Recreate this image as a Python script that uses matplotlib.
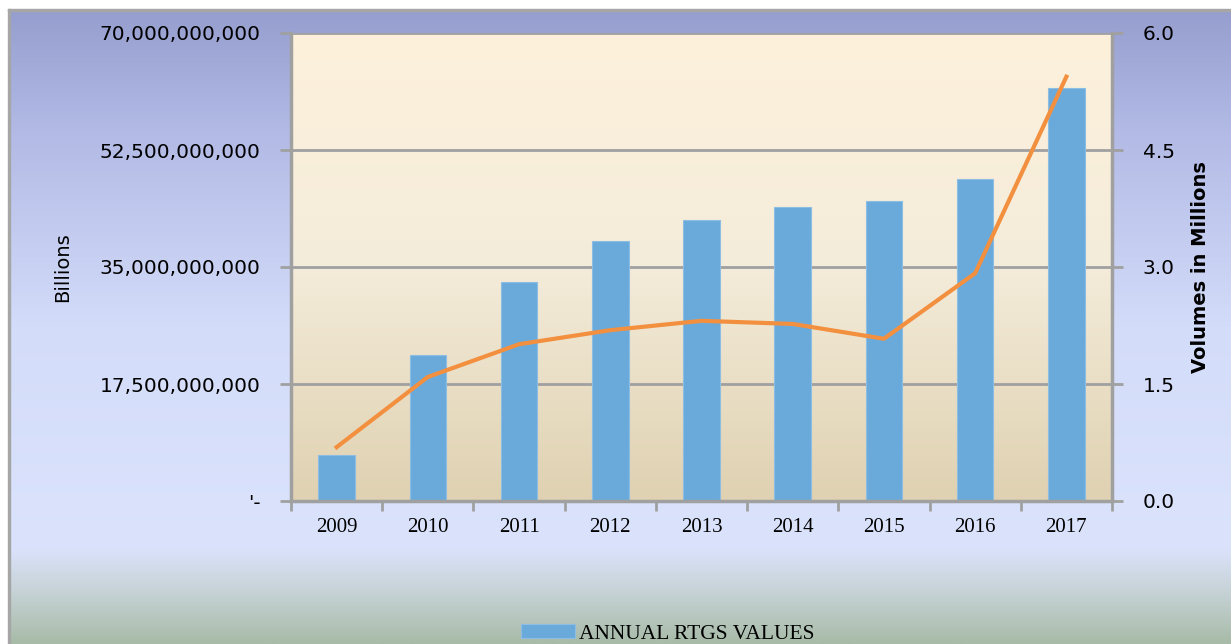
import matplotlib.pyplot as plt
import numpy as np
from matplotlib.colors import LinearSegmentedColormap
from matplotlib.ticker import FuncFormatter

# data
years = ['2009', '2010', '2011', '2012', '2013', '2014', '2015', '2016', '2017']
rtgs_values = [6.9e9, 21.8e9, 32.8e9, 38.9e9, 42.0e9, 44.0e9, 44.9e9, 48.2e9, 61.8e9]
rtgs_volumes = [0.69, 1.59, 2.01, 2.19, 2.31, 2.27, 2.08, 2.92, 5.44]

W, H = 1231, 644
fig = plt.figure(figsize=(W / 100, H / 100), dpi=100)

# outer background gradient (frame starts a few pixels in from top/left)
bg = fig.add_axes([8 / W, 0, 1 - 8 / W, 1 - 9 / H], zorder=0)
bg_cmap = LinearSegmentedColormap.from_list('bg', [
    (0.0, '#969ecf'), (0.2, '#b3bbe6'), (0.5, '#d3dcf9'), (0.85, '#dbe3fc'),
    (0.92, '#c6d2d6'), (1.0, '#a8bba8')])
bg.imshow(np.linspace(0, 1, 256).reshape(-1, 1), aspect='auto', cmap=bg_cmap,
          extent=[0, 1, 0, 1])
bg.set_axis_off()
fig.patches.append(plt.Rectangle((8 / W, 0), 2 / W, 1 - 9 / H, transform=fig.transFigure,
                                 color='#a6a6a6', zorder=1))
fig.patches.append(plt.Rectangle((8 / W, 1 - 11 / H), 1 - 8 / W, 2 / H, transform=fig.transFigure,
                                 color='#a6a6a6', zorder=1))

# plot area
left, right, top, bottom = 291, 1112, 33, 501
ax = fig.add_axes([left / W, 1 - bottom / H, (right - left) / W, (bottom - top) / H], zorder=2)
ax.patch.set_alpha(0)

x = np.arange(len(years))
ax.set_xlim(-0.5, len(years) - 0.5)
ax.set_ylim(0, 70e9)

# plot area gradient
pa_cmap = LinearSegmentedColormap.from_list('pa', ['#dfd1b1', '#f4ecda', '#fdf1dc'])
ax.imshow(np.linspace(0, 1, 256).reshape(-1, 1), aspect='auto', cmap=pa_cmap, origin='lower',
          extent=[-0.5, len(years) - 0.5, 0, 70e9], zorder=0)

yt = [0, 17.5e9, 35e9, 52.5e9, 70e9]
ax.set_yticks(yt)
for v in yt[1:]:
    ax.axhline(v, color='#a0a0a0', lw=2, zorder=1)

bars = ax.bar(x, rtgs_values, width=0.4, color='#6aaadb', edgecolor='#8dbde3', lw=0.8,
              zorder=2, label='ANNUAL RTGS VALUES')

ax.yaxis.set_major_formatter(FuncFormatter(lambda v, p: "'-" if v == 0 else f'{v:,.0f}'))
ax.set_xticks(np.arange(-0.5, len(years), 1.0))
ax.set_xticklabels([])
ax.set_xticks(x, minor=True)
ax.set_xticklabels(years, minor=True, fontfamily='Liberation Serif', fontsize=15)
ax.tick_params(axis='x', which='major', length=7, width=2, color='#a0a0a0')
ax.tick_params(axis='x', which='minor', length=0, pad=12)
ax.tick_params(axis='y', length=8, width=2, color='#a0a0a0', labelsize=14.5, pad=14)
for s in ['top', 'right']:
    ax.spines[s].set_visible(False)
for s in ['left', 'bottom']:
    ax.spines[s].set_color('#a0a0a0')
    ax.spines[s].set_linewidth(2.5)
ax.set_ylabel('Billions', fontsize=14, labelpad=20)

ax2 = ax.twinx()
ax2.set_ylim(0, 6.0)
ax2.set_yticks([0, 1.5, 3.0, 4.5, 6.0])
ax2.yaxis.set_major_formatter(FuncFormatter(lambda v, p: f'{v:.1f}'))
line, = ax2.plot(x, rtgs_volumes, color='#f39040', lw=3, zorder=3)
ax2.tick_params(axis='y', length=8, width=2, color='#a0a0a0', labelsize=14.5, pad=14)
for s in ['top', 'left', 'bottom']:
    ax2.spines[s].set_visible(False)
ax2.spines['right'].set_color('#a0a0a0')
ax2.spines['right'].set_linewidth(2.5)
ax2.set_ylabel('Volumes in Millions', fontsize=14, fontweight='bold', labelpad=12)

fig.legend(handles=[bars], labels=['ANNUAL RTGS VALUES'], loc='center',
           bbox_to_anchor=(668 / W, 1 - 634 / H), frameon=False, handlelength=2.5,
           handleheight=0.6, handletextpad=0.2,
           prop={'family': 'Liberation Serif', 'size': 15.5})

fig.savefig('out.png', dpi=100)
